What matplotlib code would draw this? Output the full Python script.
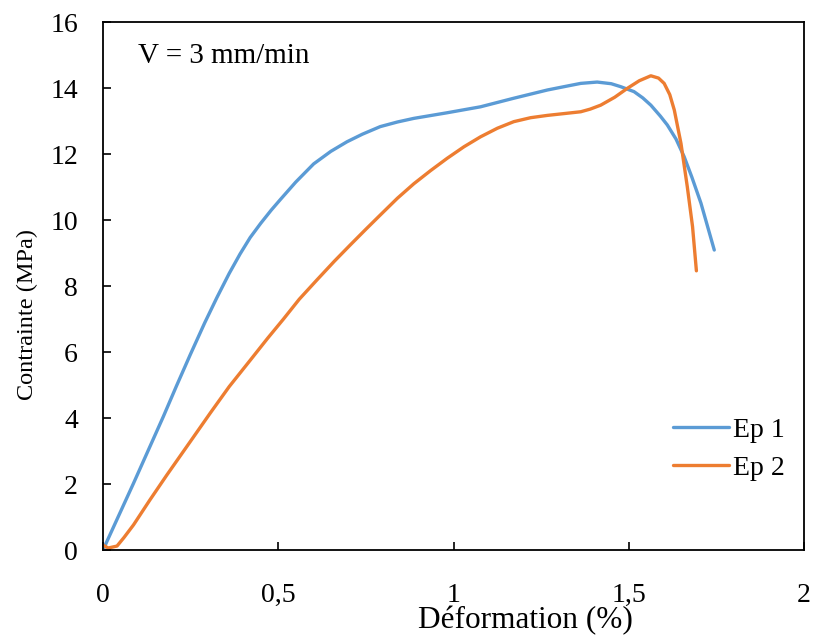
import matplotlib
matplotlib.use("Agg")
import matplotlib.pyplot as plt

plt.rcParams['font.family'] = ['Liberation Serif', 'DejaVu Serif']

# courbes contrainte / deformation
ep1_x = [0, 0.087, 0.172, 0.21, 0.249, 0.29, 0.325, 0.36, 0.391, 0.42, 0.45,
         0.48, 0.506, 0.55, 0.601, 0.65, 0.696, 0.74, 0.791, 0.84, 0.887,
         0.982, 1.077, 1.172, 1.268, 1.32, 1.363, 1.41, 1.45, 1.477, 1.515,
         1.54, 1.563, 1.59, 1.61, 1.635, 1.658, 1.68, 1.706, 1.725, 1.744]
ep1_y = [0, 2.02, 4.04, 4.98, 5.92, 6.88, 7.65, 8.38, 8.97, 9.47, 9.9,
         10.3, 10.62, 11.15, 11.7, 12.08, 12.37, 12.6, 12.83, 12.97, 13.08,
         13.25, 13.43, 13.69, 13.94, 14.05, 14.14, 14.18, 14.13, 14.04, 13.89,
         13.7, 13.48, 13.15, 12.88, 12.45, 11.92, 11.3, 10.51, 9.8, 9.09]

ep2_x = [0, 0.015, 0.04, 0.06, 0.087, 0.134, 0.182, 0.25, 0.306, 0.36, 0.42,
         0.47, 0.515, 0.56, 0.61, 0.66, 0.706, 0.75, 0.791, 0.84, 0.887,
         0.935, 0.982, 1.03, 1.077, 1.125, 1.172, 1.22, 1.268, 1.32, 1.363,
         1.39, 1.42, 1.46, 1.496, 1.53, 1.563, 1.585, 1.601, 1.617, 1.63,
         1.649, 1.667, 1.682, 1.693]
ep2_y = [0.15, 0.06, 0.12, 0.38, 0.76, 1.52, 2.27, 3.3, 4.15, 4.95, 5.75,
         6.42, 7.0, 7.6, 8.18, 8.75, 9.25, 9.72, 10.15, 10.66, 11.1,
         11.5, 11.87, 12.22, 12.52, 12.78, 12.98, 13.1, 13.17, 13.23, 13.28,
         13.36, 13.48, 13.72, 13.99, 14.22, 14.37, 14.3, 14.14, 13.8, 13.33,
         12.32, 11.01, 9.8, 8.46]

labels = ['Ep 1', 'Ep 2']
colors = ['#5B9BD5', '#ED7D31']

xticks = [0, 0.5, 1, 1.5, 2]
xtick_labels = ['0', '0,5', '1', '1,5', '2']
yticks = [0, 2, 4, 6, 8, 10, 12, 14, 16]

fig = plt.figure(figsize=(8.13, 6.37), dpi=100)
ax = fig.add_axes([103 / 813, 1 - 550 / 637, (804 - 103) / 813, (550 - 22) / 637])

ax.plot(ep1_x, ep1_y, color=colors[0], lw=2.4, label=labels[0], solid_capstyle='round')
ax.plot(ep2_x, ep2_y, color=colors[1], lw=2.4, label=labels[1], solid_capstyle='round')

ax.set_xlim(0, 2)
ax.set_ylim(0, 16)
ax.set_xticks(xticks)
ax.set_xticklabels(xtick_labels)
ax.set_yticks(yticks)
ax.tick_params(direction='in', length=6, width=1.2, labelsize=20)
ax.tick_params(axis='x', pad=24)
ax.tick_params(axis='y', pad=18)
for s in ax.spines.values():
    s.set_linewidth(1.3)

ax.text((138 - 103) / 701, 1 - (63 - 22) / 528, 'V = 3 mm/min', transform=ax.transAxes,
        fontsize=21, ha='left', va='baseline')

fig.text(525 / 813, 1 - 628 / 637, 'Déformation (%)', fontsize=22.5,
         ha='center', va='baseline')
fig.text(27 / 813, 1 - 315 / 637, 'Contrainte (MPa)', fontsize=17.5,
         rotation=90, ha='center', va='center')

ax.legend(loc='center left', bbox_to_anchor=(673 / 813, 1 - 449 / 637),
          bbox_transform=fig.transFigure, frameon=False, fontsize=20,
          handlelength=2.0, handletextpad=0.15, borderpad=0, borderaxespad=0,
          labelspacing=0.45)

fig.savefig('out.png', dpi=100)
